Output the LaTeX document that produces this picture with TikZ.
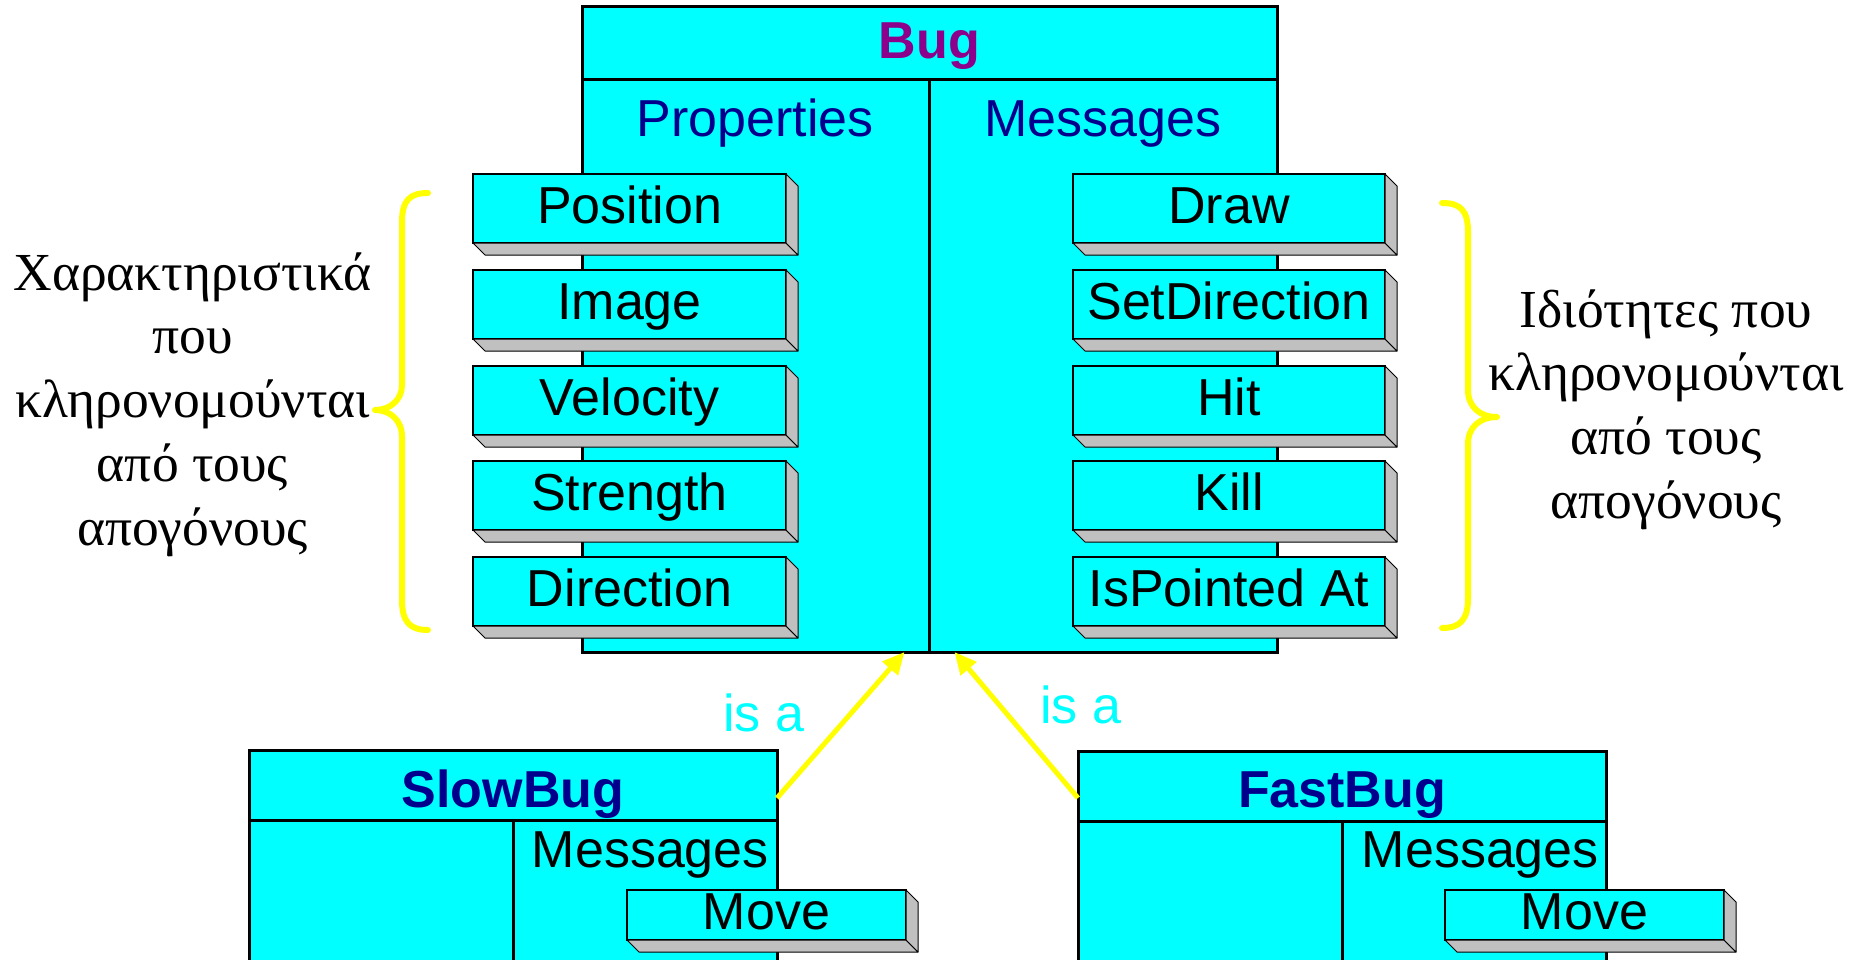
\documentclass[tikz,border=0pt]{standalone}
\usepackage{fontspec}
\setmainfont{Liberation Serif}
\newfontfamily\arialfont{Liberation Sans}
\usetikzlibrary{arrows.meta,calc}

\definecolor{boxcyan}{RGB}{0,255,255}
\definecolor{shadegray}{RGB}{192,192,192}
\definecolor{titlepurple}{RGB}{140,0,140}
\definecolor{headnavy}{RGB}{0,0,140}
\definecolor{braceyellow}{RGB}{255,255,0}

\newcommand\itemfont{\arialfont\fontsize{52}{62}\selectfont}
\newcommand\greekfont{\fontsize{53.5}{63.75}\selectfont}

% a raised cyan slab with a grey bevel to the lower right
% #1 name, #2 left, #3 top, #4 width, #5 height, #6 text
\newcommand\slab[6]{%
  \node[slabface, minimum width=#4pt, minimum height=#5pt] (#1) at (#2,#3) {#6};
  \filldraw[slabdepth] (#1.south west) -- ++(12,12) -- ($(#1.south east)+(12,12)$) -- (#1.south east) -- cycle;
  \filldraw[slabdepth] (#1.north east) -- ++(12,12) -- ($(#1.south east)+(12,12)$) -- (#1.south east) -- cycle;
}

\begin{document}
\begin{tikzpicture}[x=1pt, y=-1pt,
  classbox/.style={draw=black, line width=3pt, fill=boxcyan, inner sep=0pt, outer sep=0pt, anchor=north west},
  rule/.style={draw=black, line width=3pt},
  slabface/.style={draw=black, line width=1.2pt, fill=boxcyan, inner sep=0pt, outer sep=0pt,
                   anchor=north west, font=\itemfont, text height=38pt, text depth=9pt},
  slabdepth/.style={draw=black, line width=1pt, fill=shadegray, line join=round},
  label/.style={font=\itemfont, inner sep=0pt},
  isa/.style={draw=braceyellow, line width=5pt, -{Triangle[length=22pt,width=20pt]}},
  brace/.style={draw=braceyellow, line width=6pt, line cap=round, line join=round},
  greek/.style={font=\greekfont, align=center, inner sep=0pt}]
\useasboundingbox (0,0) rectangle (1863,960);
\fill[white] (0,0) rectangle (1863,960);

% ---- base class
\node[classbox, minimum width=695pt, minimum height=645pt] (bug) at (582,7) {};
\draw[rule] ($(bug.north west)+(0,73)$) -- ($(bug.north east)+(0,73)$);
\draw[rule] ($(bug.north)+(0,73)$) -- (bug.south);
\node[label, font=\itemfont\bfseries, text=titlepurple, anchor=base] (bugtitle) at (929.5,59) {Bug};
\node[label, text=headnavy, anchor=base] (bugprops) at (755,137) {Properties};
\node[label, text=headnavy, anchor=base] (bugmsgs) at (1103,137) {Messages};

\slab{position}{473}{174}{313}{69}{Position}
\slab{image}{473}{270}{313}{69}{Image}
\slab{velocity}{473}{366}{313}{69}{Velocity}
\slab{strength}{473}{461}{313}{69}{Strength}
\slab{direction}{473}{557}{313}{69}{Direction}

\slab{draw}{1073}{174}{312}{69}{Draw}
\slab{setdir}{1073}{270}{312}{69}{SetDirection}
\slab{hit}{1073}{366}{312}{69}{Hit}
\slab{kill}{1073}{461}{312}{69}{Kill}
\slab{ispointed}{1073}{557}{312}{69}{IsPointed At}

% ---- braces and their notes
\draw[brace] (428,193) .. controls (410,193) and (402,200) .. (402,222) -- (402,385)
  .. controls (402,400) and (390,410) .. (375,410) .. controls (390,410) and (402,420) .. (402,437)
  -- (402,600) .. controls (402,622) and (410,630) .. (428,630);
\draw[brace] (1442,203) .. controls (1460,203) and (1468,210) .. (1468,232) -- (1468,390)
  .. controls (1468,407) and (1480,417) .. (1497,417) .. controls (1480,417) and (1468,427) .. (1468,444)
  -- (1468,598) .. controls (1468,620) and (1460,628) .. (1442,628);

\node[greek, anchor=north] (leftnote) at (192.5,246)
  {\rule{0pt}{44pt}Χαρακτηριστικά\\που\\κληρονομούνται\\από τους\\απογόνους};
\node[greek, anchor=north] (rightnote) at (1666,283)
  {\rule{0pt}{44pt}Ιδιότητες που\\κληρονομούνται\\από τους\\απογόνους};

% ---- derived classes
\node[classbox, minimum width=528pt, minimum height=240pt] (slow) at (249,750) {};
\draw[rule] ($(slow.north west)+(0,70)$) -- ($(slow.north east)+(0,70)$);
\draw[rule] ($(slow.north)+(0,70)$) -- (slow.south);
\node[label, font=\itemfont\bfseries, text=headnavy, anchor=base] (slowtitle) at (513,807) {SlowBug};
\node[label, anchor=base east] (slowmsgs) at (769,867) {Messages};
\slab{slowmove}{627}{890}{279}{50}{Move}

\node[classbox, minimum width=528pt, minimum height=240pt] (fast) at (1078,751) {};
\draw[rule] ($(fast.north west)+(0,70)$) -- ($(fast.north east)+(0,70)$);
\draw[rule] ($(fast.north)+(0,70)$) -- (fast.south);
\node[label, font=\itemfont\bfseries, text=headnavy, anchor=base] (fasttitle) at (1342,807) {FastBug};
\node[label, anchor=base east] (fastmsgs) at (1599,867) {Messages};
\slab{fastmove}{1445}{890}{279}{50}{Move}

% ---- inheritance arrows
\coordinate (slowtail) at ($(slow.north east)+(0,48)$);
\coordinate (fasttail) at ($(fast.north west)+(0,47)$);
\coordinate (bughitL) at ($(bug.south)+(-25,0)$);
\coordinate (bughitR) at ($(bug.south)+(25,0)$);
\draw[isa] (slowtail) -- (bughitL);
\draw[isa] (fasttail) -- (bughitR);
\node[label, text=boxcyan, anchor=base west] (isaleft) at (723,731) {is a};
\node[label, text=boxcyan, anchor=base west] (isaright) at (1040,723) {is a};
\end{tikzpicture}
\end{document}
